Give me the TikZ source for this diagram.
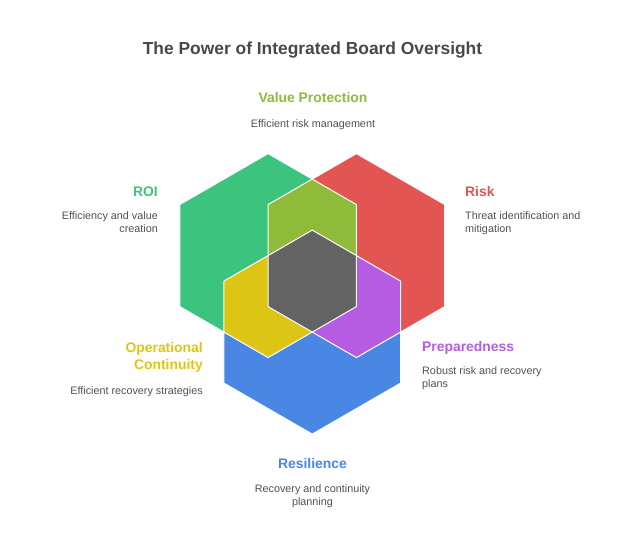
\documentclass[tikz,border=0pt]{standalone}
\usepackage{fontspec}
\setmainfont{Liberation Sans}
\usepackage{tikz}

\definecolor{roigreen}{HTML}{3CC47F}
\definecolor{riskred}{HTML}{E35552}
\definecolor{resblue}{HTML}{4A86E4}
\definecolor{valolive}{HTML}{8FBB3B}
\definecolor{opyellow}{HTML}{DCC515}
\definecolor{prepurple}{HTML}{B55CE3}
\definecolor{coregray}{HTML}{636363}
\definecolor{txtgray}{HTML}{505050}

\newcommand{\hexat}[1]{(#1) +(90:102pt) -- +(150:102pt) -- +(210:102pt) -- +(270:102pt) -- +(330:102pt) -- +(30:102pt) -- cycle}

\tikzset{
  head/.style={inner sep=0pt, font=\fontsize{13.9}{17}\selectfont\bfseries, align=center},
  desc/.style={inner sep=0pt, text=txtgray, font=\fontsize{10.8}{13}\selectfont},
}

\begin{document}
\begin{tikzpicture}[x=1pt, y=-1pt]
		\useasboundingbox (0,0) rectangle (625,553);
		
		% Centres of the hexagons
		\coordinate (g) at (268.1,255.6);
		\coordinate (r) at (356.4,255.6);
		\coordinate (b) at (312.25,332.1);
		
		% Hexagons
		\fill[roigreen] \hexat{g};
		\fill[riskred] \hexat{r};
		\fill[resblue] \hexat{b};
		
		% Overlaps
		\begin{scope}
			\clip \hexat{g};
			\fill[valolive] \hexat{r};
			\fill[opyellow] \hexat{b};
		\end{scope}
		\begin{scope}
			\clip \hexat{r};
			\fill[prepurple] \hexat{b};
		\end{scope}
		\begin{scope}
			\clip \hexat{g};
			\clip \hexat{r};
			\fill[coregray] \hexat{b};
		\end{scope}
		
		% White borders
		\draw[white, line width=1pt, line join=round] \hexat{g} \hexat{r} \hexat{b};
		
		% Title
		\node[inner sep=0pt, anchor=base, text=txtgray!90!black, font=\fontsize{17.4}{20}\selectfont\bfseries] (title) at (312.5,55) {The Power of Integrated Board Oversight};
		
		% Labels (multi-line nodes sit on their last line)
		\node[head, text=valolive, anchor=base] (valh) at (313,103) {Value Protection};
		\node[desc, anchor=base] (vald) at (313,128) {Efficient risk management};
		
		\node[head, text=roigreen, anchor=base east] (roih) at (158,197) {ROI};
		\node[desc, align=right, anchor=base east] (roid) at (158,233) {Efficiency and value\\creation};
		
		\node[head, text=riskred, anchor=base west] (riskh) at (465,197) {Risk};
		\node[desc, align=left, anchor=base west] (riskd) at (465,233) {Threat identification and\\mitigation};
		
		\node[head, text=opyellow, align=right, anchor=base east] (oph) at (203,370) {Operational\\Continuity};
		\node[desc, anchor=base east] (opd) at (203,395) {Efficient recovery strategies};
		
		\node[head, text=prepurple, anchor=base west] (preh) at (422,352) {Preparedness};
		\node[desc, align=left, anchor=base west] (pred) at (422,388) {Robust risk and recovery\\plans};
		
		\node[head, text=resblue, anchor=base] (resh) at (312.5,469) {Resilience};
		\node[desc, align=center, anchor=base] (resd) at (312.5,506) {Recovery and continuity\\planning};
		
	\end{tikzpicture}
\end{document}
